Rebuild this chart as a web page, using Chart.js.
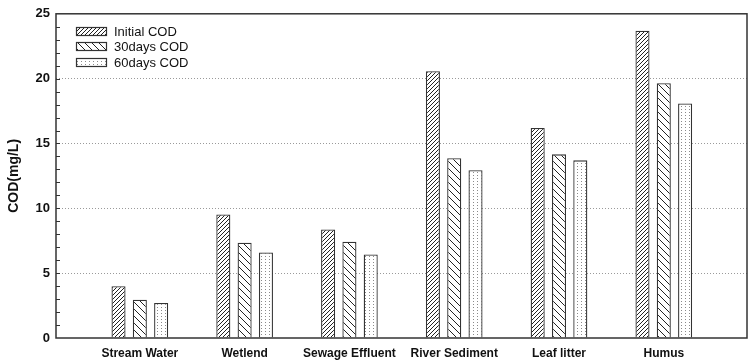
<!DOCTYPE html>
<html>
<head>
<meta charset="utf-8">
<script src="https://cdn.jsdelivr.net/npm/chart.js@4.4.0/dist/chart.umd.min.js"></script>
<style>
  html, body { margin: 0; padding: 0; background: #fff; }
  #wrap { width: 754px; height: 363px; }
</style>
</head>
<body>
<div id="wrap"><canvas id="chart"></canvas></div>
<script>
// categories and series (COD, mg/L)
const sites = ['Stream Water', 'Wetlend', 'Sewage Effluent', 'River Sediment', 'Leaf litter', 'Humus'];
const initialCOD = [4.0, 9.52, 8.37, 20.57, 16.2, 23.7];
const days30COD = [2.95, 7.35, 7.42, 13.86, 14.16, 19.65];
const days60COD = [2.7, 6.6, 6.44, 12.93, 13.7, 18.08];
const seriesNames = ['Initial COD', '30days COD', '60days COD'];
const yTicks = [0, 5, 10, 15, 20, 25];

const FONT = '"Liberation Sans", Arial, sans-serif';

// hatch fills
function makePattern(kind) {
    const c = document.createElement('canvas');
    const g = c.getContext('2d');
    if (kind === 'fwd') {
        const s = 4;
        c.width = s; c.height = s;
        g.fillStyle = '#fff'; g.fillRect(0, 0, s, s);
        g.strokeStyle = '#222'; g.lineWidth = 1;
        g.beginPath();
        g.moveTo(0, s); g.lineTo(s, 0);
        g.moveTo(-1, 1); g.lineTo(1, -1);
        g.moveTo(s - 1, s + 1); g.lineTo(s + 1, s - 1);
        g.stroke();
    } else if (kind === 'back') {
        const s = 7;
        c.width = s; c.height = s;
        g.fillStyle = '#fff'; g.fillRect(0, 0, s, s);
        g.strokeStyle = '#222'; g.lineWidth = 1;
        g.beginPath();
        g.moveTo(0, 0); g.lineTo(s, s);
        g.moveTo(-1, s - 1); g.lineTo(1, s + 1);
        g.moveTo(s - 1, -1); g.lineTo(s + 1, 1);
        g.stroke();
    } else {
        c.width = 4; c.height = 3;
        g.fillStyle = '#fff'; g.fillRect(0, 0, 4, 3);
        g.fillStyle = '#8a8a8a';
        g.fillRect(1, 1, 1, 1);
    }
    return g.createPattern(c, 'repeat');
}
const fills = [makePattern('fwd'), makePattern('back'), makePattern('dots')];

const toPoints = arr => arr.map((v, i) => ({ x: i, y: v }));

// frame, inward minor ticks and legend inside the plot
const extras = {
    id: 'extras',
    afterDraw(chart) {
        const ctx = chart.ctx;
        const a = chart.chartArea;
        const y = chart.scales.y;
        ctx.save();
        ctx.strokeStyle = '#333';
        ctx.lineWidth = 1;
        ctx.beginPath();
        for (let v = 1; v < 25; v++) {
            const py = Math.round(y.getPixelForValue(v)) + 0.5;
            ctx.moveTo(a.left, py);
            ctx.lineTo(a.left + 4, py);
        }
        ctx.stroke();
        ctx.lineWidth = 1.5;
        ctx.strokeRect(a.left, a.top, a.right - a.left, a.bottom - a.top);

        // legend
        const lx = 76, ly = [27, 42, 58];
        chart.data.datasets.forEach((ds, i) => {
            ctx.fillStyle = ds.backgroundColor;
            ctx.fillRect(lx, ly[i], 31, 9);
            ctx.lineWidth = 1.2;
            ctx.strokeStyle = '#333';
            ctx.strokeRect(lx + 0.5, ly[i] + 0.5, 30, 8);
            ctx.fillStyle = '#111';
            ctx.font = '13px ' + FONT;
            ctx.textBaseline = 'middle';
            ctx.fillText(ds.label, 114, ly[i] + 5);
        });
        ctx.restore();
    }
};

new Chart(document.getElementById('chart'), {
    type: 'bar',
    data: {
        datasets: [initialCOD, days30COD, days60COD].map((arr, i) => ({
            label: seriesNames[i],
            data: toPoints(arr),
            backgroundColor: fills[i],
            borderColor: '#333',
            borderWidth: 1.3,
            barPercentage: 0.66,
            categoryPercentage: 0.61
        }))
    },
    options: {
        responsive: true,
        maintainAspectRatio: false,
        animation: false,
        layout: { padding: { top: 9, right: 7, left: 0, bottom: 0 } },
        plugins: {
            legend: { display: false },
            tooltip: { enabled: false }
        },
        scales: {
            x: {
                type: 'linear',
                offset: false,
                min: -0.8,
                max: 5.794,
                afterBuildTicks: s => { s.ticks = sites.map((_, i) => ({ value: i })); },
                afterFit: s => { s.height = 25; },
                grid: { display: false, drawTicks: false },
                border: { display: false },
                ticks: {
                    autoSkip: false,
                    maxRotation: 0,
                    padding: 8,
                    color: '#111',
                    font: { family: FONT, size: 12, weight: 'bold' },
                    callback: v => sites[v]
                }
            },
            y: {
                min: 0,
                max: 25,
                afterBuildTicks: s => { s.ticks = yTicks.map(v => ({ value: v })); },
                afterFit: s => { s.width = 56; },
                grid: {
                    drawTicks: false,
                    lineWidth: 1,
                    color: c => (c.tick && (c.tick.value === 0 || c.tick.value === 25)) ? 'rgba(0,0,0,0)' : '#9a9a9a'
                },
                border: { display: false, dash: [1, 2] },
                ticks: {
                    padding: 6,
                    color: '#111',
                    font: { family: FONT, size: 13, weight: 'bold' }
                },
                title: {
                    display: true,
                    text: 'COD(mg/L)',
                    color: '#111',
                    padding: { top: 6, bottom: 0 },
                    font: { family: FONT, size: 14, weight: 'bold' }
                }
            }
        }
    },
    plugins: [extras]
});
</script>
</body>
</html>
